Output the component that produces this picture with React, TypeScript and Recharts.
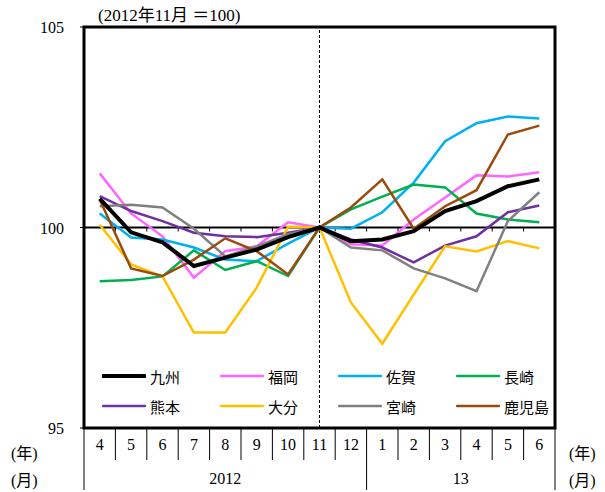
import {
  LineChart,
  Line,
  XAxis,
  YAxis,
  ReferenceLine,
  ReferenceArea,
  Legend,
} from "recharts";

// 2012年4月〜2013年6月
const months = ["4", "5", "6", "7", "8", "9", "10", "11", "12", "1", "2", "3", "4", "5", "6"];
const yearTicks = [-0.5, 4, 8.5, 11.5, 14.5];
const yearLabels: Record<string, string> = { "4": "2012", "11.5": "13" };
const yTicks = [95, 100, 105];

const kyushu = [100.72, 99.88, 99.63, 99.04, 99.25, 99.45, 99.76, 100, 99.66, 99.7, 99.91, 100.41, 100.66, 101.03, 101.2];
const fukuoka = [101.35, 100.35, 99.78, 98.75, 99.41, 99.53, 100.13, 100, 99.58, 99.55, 100.2, 100.75, 101.3, 101.27, 101.38];
const saga = [100.35, 99.75, 99.7, 99.5, 99.2, 99.16, 99.6, 100, 99.97, 100.38, 101.12, 102.15, 102.6, 102.77, 102.72];
const nagasaki = [98.66, 98.69, 98.78, 99.43, 98.94, 99.16, 98.79, 100, 100.45, 100.77, 101.07, 101.0, 100.35, 100.2, 100.13];
const kumamoto = [100.78, 100.41, 100.16, 99.87, 99.78, 99.76, 99.87, 100, 99.7, 99.5, 99.13, 99.55, 99.78, 100.38, 100.55];
const oita = [100.07, 99.08, 98.78, 97.38, 97.38, 98.5, 100.02, 100, 98.13, 97.1, 98.33, 99.53, 99.4, 99.66, 99.48];
const miyazaki = [100.53, 100.57, 100.5, 99.97, 99.28, 99.53, 99.83, 100, 99.5, 99.43, 98.98, 98.73, 98.41, 100.16, 100.88];
const kagoshima = [100.7, 98.98, 98.79, 99.2, 99.73, 99.41, 98.83, 100, 100.5, 101.2, 99.97, 100.53, 100.93, 102.32, 102.54];

const series = [
  { key: "九州", values: kyushu, color: "#000000", width: 4 },
  { key: "福岡", values: fukuoka, color: "#FF66FF", width: 2.5 },
  { key: "佐賀", values: saga, color: "#00B0F0", width: 2.5 },
  { key: "長崎", values: nagasaki, color: "#00B050", width: 2.5 },
  { key: "熊本", values: kumamoto, color: "#7030A0", width: 2.5 },
  { key: "大分", values: oita, color: "#FFC000", width: 2.5 },
  { key: "宮崎", values: miyazaki, color: "#808080", width: 2.5 },
  { key: "鹿児島", values: kagoshima, color: "#9A4A0C", width: 2.5 },
];

const data = months.map((m, i) => {
  const row: Record<string, number | string> = { i, m };
  series.forEach((s) => (row[s.key] = s.values[i]));
  return row;
});

// boundaries between months, for the little ticks on the 100 line
const inner = months.slice(1).map((_, i) => i + 0.5);
const monthTicks = [-0.5, ...months.flatMap((_, i) => [i, i + 0.5])];

const serif = "'Liberation Serif', 'DejaVu Serif', serif";
const mixed = "'Liberation Serif', 'Noto Sans CJK JP', serif";
const gothic = "'Noto Sans CJK JP', sans-serif";

const MonthTick = (props: any) => {
  const { x, y, payload } = props;
  const v = payload.value;
  if (Number.isInteger(v)) {
    return (
      <text x={x} y={y + 22} textAnchor="middle" fontSize={16} fontFamily={serif} fill="#000">
        {months[v]}
      </text>
    );
  }
  return <line x1={x} x2={x} y1={y} y2={y + 32} stroke="#000" strokeWidth={1} />;
};

const YearTick = (props: any) => {
  const { x, y, payload } = props;
  const label = yearLabels[String(payload.value)];
  if (label) {
    return (
      <text x={x} y={y + 24} textAnchor="middle" fontSize={16} fontFamily={serif} fill="#000">
        {label}
      </text>
    );
  }
  return <line x1={x} x2={x} y1={y} y2={y + 30} stroke="#000" strokeWidth={1} />;
};

const YTick = (props: any) => {
  const { x, y, payload } = props;
  return (
    <text x={x - 16} y={y + 6} textAnchor="end" fontSize={16} fontFamily={serif} fill="#000">
      {payload.value}
    </text>
  );
};

const LegendBox = () => (
  <div
    style={{
      display: "grid",
      gridTemplateColumns: "118px 118px 118px 118px",
      rowGap: 8,
      fontFamily: gothic,
      fontSize: 15,
      color: "#000",
    }}
  >
    {series.map((s) => (
      <div key={s.key} style={{ display: "flex", alignItems: "center", height: 22 }}>
        <svg width={44} height={8} style={{ marginRight: 4 }}>
          <line x1={1} x2={43} y1={4} y2={4} stroke={s.color} strokeWidth={s.width} strokeLinecap="round" />
        </svg>
        <span>{s.key}</span>
      </div>
    ))}
  </div>
);

const sideLabel = { position: "absolute" as const, fontSize: 16, fontFamily: mixed, lineHeight: "27px" };

const App = () => {
  return (
    <div style={{ position: "absolute", left: 0, top: 0, width: 605, height: 492, background: "#fff" }}>
      <div style={{ position: "absolute", left: 98, top: 1, fontSize: 17, fontFamily: mixed }}>
        (2012年11月 ＝100)
      </div>
      <div style={{ ...sideLabel, left: 11, top: 440 }}>
        (年)
        <br />
        (月)
      </div>
      <div style={{ ...sideLabel, left: 569, top: 440 }}>
        (年)
        <br />
        (月)
      </div>
      <LineChart
        width={605}
        height={492}
        data={data}
        margin={{ top: 27, right: 50, left: 40, bottom: 2 }}
      >
        <XAxis
          dataKey="i"
          type="number"
          domain={[-0.5, 14.5]}
          ticks={monthTicks}
          interval={0}
          axisLine={false}
          tickLine={false}
          tickSize={0}
          tickMargin={0}
          height={32}
          tick={<MonthTick />}
        />
        <XAxis
          xAxisId="yr"
          dataKey="i"
          type="number"
          domain={[-0.5, 14.5]}
          ticks={yearTicks}
          interval={0}
          axisLine={false}
          tickLine={false}
          tickSize={0}
          tickMargin={0}
          height={30}
          tick={<YearTick />}
        />
        <YAxis
          domain={[95, 105]}
          ticks={yTicks}
          width={44}
          axisLine={false}
          tickSize={4}
          tickMargin={0}
          tickLine={{ stroke: "#000" }}
          tick={<YTick />}
        />
        <ReferenceLine y={100} stroke="#000" strokeWidth={2} />
        {inner.map((b) => (
          <ReferenceLine
            key={b}
            segment={[
              { x: b, y: 100 },
              { x: b, y: 99.9 },
            ]}
            stroke="#000"
            strokeWidth={1}
          />
        ))}
        <ReferenceLine x={7} stroke="#000" strokeWidth={1} strokeDasharray="3 2" />
        {[...series.slice(1), series[0]].map((s) => (
          <Line
            key={s.key}
            dataKey={s.key}
            stroke={s.color}
            strokeWidth={s.width}
            dot={false}
            activeDot={false}
            type="linear"
            isAnimationActive={false}
          />
        ))}
        <ReferenceArea
          x1={-0.5}
          x2={14.5}
          y1={95}
          y2={105}
          fill="none"
          stroke="#000"
          strokeWidth={3}
          ifOverflow="visible"
        />
        <Legend
          layout="horizontal"
          verticalAlign="middle"
          align="center"
          content={<LegendBox />}
          wrapperStyle={{ left: 102, top: 365, width: 480 }}
        />
      </LineChart>
    </div>
  );
};

export default App;
